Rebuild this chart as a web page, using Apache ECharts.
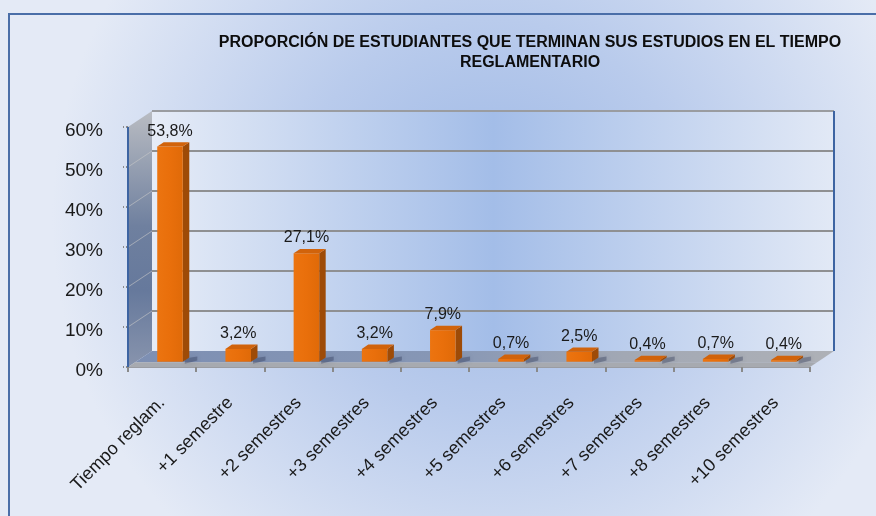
<!DOCTYPE html>
<html><head><meta charset="utf-8">
<script src="https://cdn.jsdelivr.net/npm/echarts@6/dist/echarts.min.js"></script>
<style>html,body{margin:0;padding:0;background:#fff}#c{width:876px;height:516px}</style>
</head><body><div id="c"></div>
<script>
const categories = ['Tiempo reglam.', '+1 semestre', '+2 semestres', '+3 semestres', '+4 semestres', '+5 semestres', '+6 semestres', '+7 semestres', '+8 semestres', '+10 semestres'];
const values = [53.8, 3.2, 27.1, 3.2, 7.9, 0.7, 2.5, 0.4, 0.7, 0.4];
const yTicks = [0, 10, 20, 30, 40, 50, 60];
const titleLines = ['PROPORCIÓN DE ESTUDIANTES QUE TERMINAN SUS ESTUDIOS EN EL TIEMPO', 'REGLAMENTARIO'];

const FONT = '"Liberation Sans", Arial, sans-serif';
const DEPTH = [24, -16];          // oblique depth vector of the 3D box
const BAR_FRONT = 0.33, BAR_BACK = 0.6, FLOOR_FRONT = 0.3;
const BAR_RATIO = 0.375;

function fmt(v) { return v.toFixed(1).replace('.', ',') + '%'; }

function lg(x, y, x2, y2, stops) {
  return new echarts.graphic.LinearGradient(x, y, x2, y2, stops.map((c, i) => ({offset: c[0], color: c[1]})));
}

function renderWalls(params, api) {
  const band = api.size([1, 0])[0];
  const c0 = api.coord([0, yTicks[0]]);
  const left = c0[0] - band / 2;
  const right = left + band * categories.length;
  const yBot = c0[1];
  const yTop = api.coord([0, yTicks[yTicks.length - 1]])[1];
  const dx = DEPTH[0], dy = DEPTH[1];
  const ch = [];
  ch.push({type: 'rect', shape: {x: left + dx, y: yTop + dy, width: right - left, height: yBot - yTop},
    style: {fill: lg(0, 0, 1, 0, [[0, '#e6ecf7'], [0.5, '#a3bde8'], [1, '#e2e9f6']])}});
  yTicks.slice(1, -1).forEach(t => {
    const y = api.coord([0, t])[1];
    ch.push({type: 'line', shape: {x1: left + dx, y1: y + dy, x2: right + dx, y2: y + dy}, style: {stroke: '#8f9092', lineWidth: 2}});
  });
  ch.push({type: 'line', shape: {x1: left + dx, y1: yTop + dy, x2: right + dx, y2: yTop + dy}, style: {stroke: '#9a9ca0', lineWidth: 2}});
  ch.push({type: 'line', shape: {x1: right + dx, y1: yTop + dy, x2: right + dx, y2: yBot + dy}, style: {stroke: '#3d64a2', lineWidth: 2}});
  ch.push({type: 'polygon', shape: {points: [[left, yTop], [left + dx, yTop + dy], [left + dx, yBot + dy], [left, yBot]]},
    style: {fill: lg(0, 0, 0, 1, [[0, '#b9bcc2'], [0.45, '#6f809f'], [0.7, '#66799c'], [1, '#8894ad']])}});
  yTicks.slice(1, -1).forEach(t => {
    const y = api.coord([0, t])[1];
    ch.push({type: 'line', shape: {x1: left, y1: y, x2: left + dx, y2: y + dy}, style: {stroke: 'rgba(200,200,200,0.6)', lineWidth: 1}});
  });
  const fx = dx * FLOOR_FRONT, fy = dy * FLOOR_FRONT;
  ch.push({type: 'polygon', shape: {points: [[left + fx, yBot + fy], [right + fx, yBot + fy], [right + dx, yBot + dy], [left + dx, yBot + dy]]},
    style: {fill: lg(0, 0, 1, 0, [[0, '#7d8fb3'], [0.45, '#8797b5'], [0.7, '#a2a8b4'], [1, '#aeb1b7']])}});
  ch.push({type: 'polygon', shape: {points: [[left, yBot], [right, yBot], [right + fx, yBot + fy], [left + fx, yBot + fy]]},
    style: {fill: '#a7aab0'}});
  ch.push({type: 'line', shape: {x1: left, y1: yTop, x2: left, y2: yBot}, style: {stroke: '#3d64a2', lineWidth: 2}});
  return {type: 'group', children: ch};
}

function renderBar(params, api) {
  const i = api.value(0), v = api.value(1);
  const band = api.size([1, 0])[0];
  const base = api.coord([i, 0]);
  const top = api.coord([i, v]);
  const w = band * BAR_RATIO;
  const ox = DEPTH[0] * BAR_FRONT, oy = DEPTH[1] * BAR_FRONT;
  const ddx = DEPTH[0] * (BAR_BACK - BAR_FRONT), ddy = DEPTH[1] * (BAR_BACK - BAR_FRONT);
  const xl = base[0] + ox - w / 2, xr = xl + w;
  const yb = base[1] + oy, yt = top[1] + oy;
  return {type: 'group', children: [
    {type: 'polygon', shape: {points: [[xr + 2, yb + ddy + 1], [xr + ddx + 8, yb + ddy - 1], [xr + ddx + 8, yb + ddy + 3], [xr + 2, yb + 2]]},
      style: {fill: 'rgba(40,50,80,0.35)', shadowBlur: 6, shadowColor: 'rgba(40,50,80,0.5)'}},
    {type: 'polygon', shape: {points: [[xr, yt], [xr + ddx, yt + ddy], [xr + ddx, yb + ddy], [xr, yb]]}, style: {fill: '#9e4b07'}},
    {type: 'rect', shape: {x: xl, y: yt, width: w, height: yb - yt},
      style: {fill: lg(0, 0, 1, 0, [[0, '#ec7410'], [0.5, '#e96f0b'], [1, '#e06a08']])}},
    {type: 'polygon', shape: {points: [[xl, yt], [xr, yt], [xr + ddx, yt + ddy], [xl + ddx, yt + ddy]]}, style: {fill: '#d1630b'}},
    {type: 'text', style: {text: fmt(v), x: (xl + xr) / 2, y: yt + ddy - 3, align: 'center', verticalAlign: 'bottom',
      fontSize: 16, fontFamily: FONT, fill: '#1a1a1a'}}
  ]};
}

const chart = echarts.init(document.getElementById('c'), null, {renderer: 'canvas'});
chart.setOption({
  animation: false,
  graphic: [
    {type: 'rect', z: -100, shape: {x: 0, y: 0, width: 876, height: 516},
      style: {fill: new echarts.graphic.RadialGradient(0.56, 0.42, 0.85, [{offset: 0, color: '#9cb7e5'}, {offset: 0.45, color: '#b9cbec'}, {offset: 1, color: '#e4eaf6'}])}},
    {type: 'rect', z: 100, shape: {x: 9, y: 14, width: 900, height: 600}, style: {fill: 'none', stroke: '#4a6ea8', lineWidth: 2}},
    {type: 'text', z: 100, x: 530, y: 43, style: {text: titleLines[0], align: 'center', verticalAlign: 'middle', font: 'bold 16px ' + FONT, fill: '#0d0d0d'}},
    {type: 'text', z: 100, x: 530, y: 63, style: {text: titleLines[1], align: 'center', verticalAlign: 'middle', font: 'bold 16px ' + FONT, fill: '#0d0d0d'}}
  ],
  grid: {left: 128, right: 66, top: 127, bottom: 149, containLabel: false},
  xAxis: {
    type: 'category', data: categories, boundaryGap: true,
    axisLine: {show: true, lineStyle: {color: '#9a9ca2', width: 1}},
    axisTick: {show: true, length: 5, lineStyle: {color: '#8a8a8a', width: 2}},
    axisLabel: {interval: 0, rotate: 45, margin: 33, fontSize: 18, fontFamily: FONT, color: '#1a1a1a'},
    splitLine: {show: false}
  },
  yAxis: {
    type: 'value', min: yTicks[0], max: yTicks[yTicks.length - 1], interval: 10,
    axisLine: {show: false},
    axisTick: {show: true, length: 5, lineStyle: {color: '#8a8a8a', type: 'dotted', width: 2}},
    axisLabel: {formatter: v => '{a|' + v + '%}', margin: 25,
      rich: {a: {fontSize: 19, fontFamily: FONT, color: '#1a1a1a', padding: [8, 0, 0, 0]}}},
    splitLine: {show: false}
  },
  series: [
    {type: 'custom', name: 'walls', renderItem: renderWalls, data: [[0, 0]], z: 1, silent: true, clip: false},
    {type: 'custom', name: 'valores', renderItem: renderBar, data: values.map((v, i) => [i, v]), encode: {x: 0, y: 1}, z: 3, clip: false}
  ]
});
</script></body></html>
